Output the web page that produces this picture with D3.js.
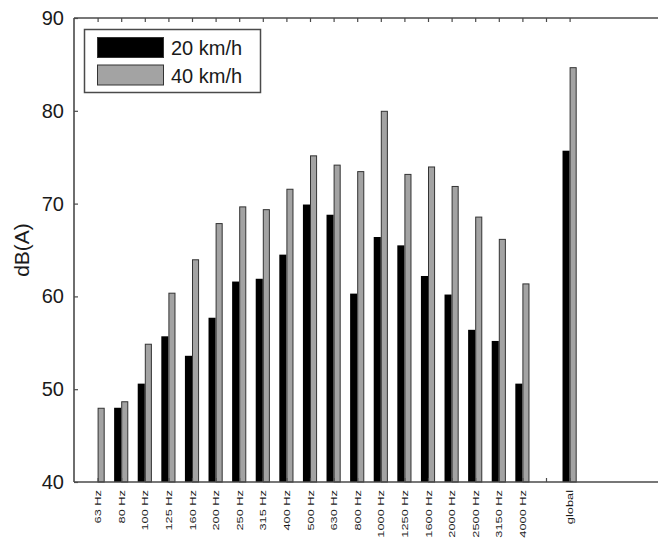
<!DOCTYPE html>
<html>
<head>
<meta charset="utf-8">
<script src="https://cdn.jsdelivr.net/npm/d3@7"></script>
<style>
  html, body { margin: 0; padding: 0; background: #fff; }
  svg { display: block; }
  text { font-family: "Liberation Sans", Arial, Helvetica, sans-serif; fill: #1a1a1a; }
</style>
</head>
<body>
<svg id="chart" width="658" height="538"></svg>
<script>
// ---- data ----
const xLabels = ["63 Hz","80 Hz","100 Hz","125 Hz","160 Hz","200 Hz","250 Hz","315 Hz","400 Hz","500 Hz",
                 "630 Hz","800 Hz","1000 Hz","1250 Hz","1600 Hz","2000 Hz","2500 Hz","3150 Hz","4000 Hz","","global"];
const speed20 = [null,48.0,50.6,55.7,53.6,57.7,61.6,61.9,64.5,69.9,68.8,60.3,66.4,65.5,62.2,60.2,56.4,55.2,50.6,null,75.7];
const speed40 = [48.0,48.7,54.9,60.4,64.0,67.9,69.7,69.4,71.6,75.2,74.2,73.5,80.0,73.2,74.0,71.9,68.6,66.2,61.4,null,84.7];
const seriesNames = ["20 km/h","40 km/h"];
const yTicks = [40,50,60,70,80,90];

// ---- layout ----
const svg = d3.select("#chart");
const pLeft = 74, pTop = 18, pBottom = 482, unit = 23.6;
const x = d3.scaleLinear().domain([0, 25]).range([pLeft, pLeft + 25 * unit]);
const y = d3.scaleLinear().domain([40, 90]).range([pBottom, pTop]);
const bw = 0.3; // bar width in x units
const axisColor = "#4a4a4a";

// bars
const pos = xLabels.map((d, i) => i + 1);
const bars20 = pos.map((p, i) => ({p, v: speed20[i]})).filter(d => d.v != null);
const bars40 = pos.map((p, i) => ({p, v: speed40[i]})).filter(d => d.v != null);

svg.append("g").selectAll("rect").data(bars20).join("rect")
  .attr("x", d => x(d.p - bw))
  .attr("width", d => x(d.p) - x(d.p - bw))
  .attr("y", d => y(d.v))
  .attr("height", d => y(40) - y(d.v))
  .attr("fill", "#000");

svg.append("g").selectAll("rect").data(bars40).join("rect")
  .attr("x", d => x(d.p) + 0.5)
  .attr("width", d => x(d.p + bw) - x(d.p) - 1)
  .attr("y", d => y(d.v) + 0.5)
  .attr("height", d => y(40) - y(d.v) - 0.5)
  .attr("fill", "#a3a3a3")
  .attr("stroke", "#333")
  .attr("stroke-width", 1);

// axes lines
const axG = svg.append("g").attr("stroke", axisColor).attr("stroke-width", 1.6).attr("fill", "none");
axG.append("line").attr("x1", pLeft).attr("x2", pLeft).attr("y1", pTop).attr("y2", pBottom);
axG.append("line").attr("x1", pLeft).attr("x2", 700).attr("y1", pTop).attr("y2", pTop);
axG.append("line").attr("x1", pLeft).attr("x2", 700).attr("y1", pBottom).attr("y2", pBottom);

// y ticks (inward) + labels
const yAxis = d3.axisLeft(y).tickValues(yTicks).tickSize(-4).tickPadding(10).tickFormat(d3.format("d"));
const yg = svg.append("g").attr("transform", `translate(${pLeft},0)`).call(yAxis);
yg.select(".domain").remove();
yg.selectAll(".tick line").attr("stroke", axisColor).attr("stroke-width", 1.2);
yg.selectAll(".tick text").attr("font-size", 20).attr("fill", "#1a1a1a")
  .attr("font-family", "'Liberation Sans', Arial, sans-serif");

// top ticks (inward)
const topAxis = d3.axisTop(x).tickValues(pos).tickSize(-4).tickFormat("");
const tg = svg.append("g").attr("transform", `translate(0,${pTop})`).call(topAxis);
tg.select(".domain").remove();
tg.selectAll(".tick line").attr("stroke", axisColor).attr("stroke-width", 1.2);

// bottom ticks (inward) + rotated labels
const botAxis = d3.axisBottom(x).tickValues(pos).tickSize(-4).tickFormat("");
const bg = svg.append("g").attr("transform", `translate(0,${pBottom})`).call(botAxis);
bg.select(".domain").remove();
bg.selectAll(".tick line").attr("stroke", axisColor).attr("stroke-width", 1.2);

const lab = svg.append("g").selectAll("g").data(pos).join("g")
  .attr("transform", (p) => `translate(${x(p)},${pBottom + 8}) rotate(-90)`);
lab.append("text")
  .attr("transform", "scale(1,0.78)")
  .attr("text-anchor", "end")
  .attr("dy", "0.35em")
  .attr("font-size", 12.8)
  .text((p, i) => xLabels[i]);

// y label
svg.append("text")
  .attr("transform", `translate(29,${(pTop + pBottom) / 2}) rotate(-90)`)
  .attr("text-anchor", "middle")
  .attr("font-size", 21)
  .text("dB(A)");

// legend
const lg = svg.append("g");
lg.append("rect").attr("x", 84.5).attr("y", 29.5).attr("width", 176).attr("height", 63)
  .attr("fill", "#fff").attr("stroke", axisColor).attr("stroke-width", 1.5);
const legendFills = ["#000", "#a3a3a3"];
seriesNames.forEach((name, i) => {
  const yy = 37 + i * 27.5;
  lg.append("rect").attr("x", 97.5).attr("y", yy + 0.5).attr("width", 66).attr("height", 20)
    .attr("fill", legendFills[i]).attr("stroke", "#333").attr("stroke-width", 1);
  lg.append("text").attr("x", 171).attr("y", yy + 18).attr("font-size", 20).text(name);
});
</script>
</body>
</html>
